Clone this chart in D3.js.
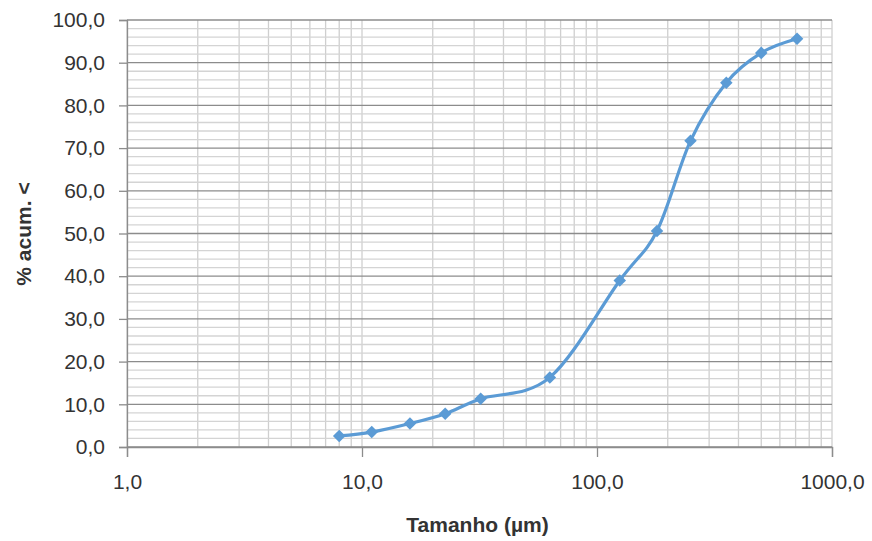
<!DOCTYPE html>
<html>
<head>
<meta charset="utf-8">
<script src="https://cdn.jsdelivr.net/npm/d3@7"></script>
<style>
  body { margin: 0; background: #fff; }
  text { font-family: "Liberation Sans", Arial, sans-serif; fill: #333; }
</style>
</head>
<body>
<svg id="chart" width="872" height="541"></svg>
<script>
// particle size (µm) and cumulative % passing
const sizes = [8, 11, 16, 22.6, 32, 63, 125, 180, 250, 355, 500, 710];
const cumPct = [2.6, 3.5, 5.5, 7.8, 11.3, 16.3, 39.0, 50.6, 71.7, 85.3, 92.3, 95.6];
const xTicks = [1, 10, 100, 1000];
const yTicks = [0, 10, 20, 30, 40, 50, 60, 70, 80, 90, 100];

const margin = { top: 20, right: 40, bottom: 94, left: 127 };
const width = 872 - margin.left - margin.right;
const height = 541 - margin.top - margin.bottom;

const svg = d3.select('#chart');
const g = svg.append('g').attr('transform', `translate(${margin.left},${margin.top})`);

const x = d3.scaleLog().domain([1, 1000]).range([0, width]);
const y = d3.scaleLinear().domain([0, 100]).range([height, 0]);

const fmt = d => d3.format('.1f')(d).replace('.', ',');

// minor vertical grid (2..9 per decade + decades)
const vGrid = [];
for (let dec = 1; dec < 1000; dec *= 10) {
    for (let k = 1; k <= 9; k++) vGrid.push(dec * k);
}
vGrid.push(1000);
g.append('g').selectAll('line')
    .data(vGrid)
    .join('line')
    .attr('x1', d => x(d)).attr('x2', d => x(d))
    .attr('y1', 0).attr('y2', height)
    .attr('stroke', '#cfcfcf')
    .attr('stroke-width', 1.3);

// horizontal grid: minor every 2, major every 10
g.append('g').selectAll('line')
    .data(d3.range(0, 101, 2))
    .join('line')
    .attr('x1', 0).attr('x2', width)
    .attr('y1', d => y(d)).attr('y2', d => y(d))
    .attr('stroke', d => d % 10 === 0 ? '#8c8c8c' : '#d4d4d4')
    .attr('stroke-width', 1.3);

// y axis
const yAxis = g.append('g')
    .call(d3.axisLeft(y).tickValues(yTicks).tickFormat(fmt).tickSize(8).tickPadding(14));
yAxis.select('.domain').attr('stroke', '#8c8c8c').attr('stroke-width', 1.3);
yAxis.selectAll('.tick line').attr('stroke', '#8c8c8c').attr('stroke-width', 1.3);
yAxis.selectAll('.tick text').style('font-size', '21px').attr('fill', '#333');

// x axis
const xAxis = g.append('g')
    .attr('transform', `translate(0,${height})`)
    .call(d3.axisBottom(x).tickValues(xTicks).tickFormat(fmt).tickSize(10).tickPadding(17));
xAxis.select('.domain').attr('stroke', '#8c8c8c').attr('stroke-width', 1.3);
xAxis.selectAll('.tick line').attr('stroke', '#8c8c8c').attr('stroke-width', 1.3);
xAxis.selectAll('.tick text').style('font-size', '21px').attr('fill', '#333');

// axis titles
svg.append('text')
    .attr('x', margin.left + width / 2 - 2)
    .attr('y', 532)
    .attr('text-anchor', 'middle')
    .style('font-size', '21px')
    .style('font-weight', 'bold')
    .text('Tamanho (µm)');

svg.append('text')
    .attr('transform', 'translate(31,234) rotate(-90)')
    .attr('text-anchor', 'middle')
    .style('font-size', '21px')
    .style('font-weight', 'bold')
    .text('% acum. <');

// smoothed line
const pts = sizes.map((s, i) => [s, cumPct[i]]);
const line = d3.line()
    .x(d => x(d[0]))
    .y(d => y(d[1]))
    .curve(d3.curveCardinal.tension(0));

g.append('path')
    .datum(pts)
    .attr('d', line)
    .attr('fill', 'none')
    .attr('stroke', '#5b9bd5')
    .attr('stroke-width', 3.2)
    .attr('stroke-linecap', 'round');

g.selectAll('.marker')
    .data(pts)
    .join('path')
    .attr('class', 'marker')
    .attr('transform', d => `translate(${x(d[0])},${y(d[1])})`)
    .attr('d', d3.symbol().type(d3.symbolDiamond2).size(100))
    .attr('fill', '#5b9bd5');
</script>
</body>
</html>
